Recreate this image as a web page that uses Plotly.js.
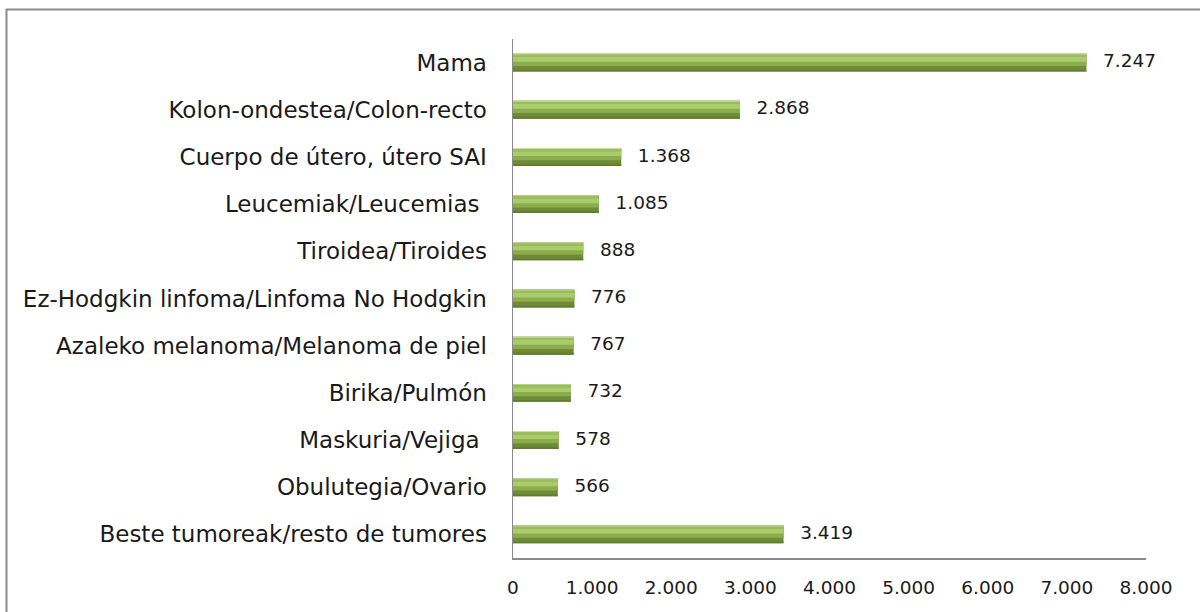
<!DOCTYPE html>
<html>
<head>
<meta charset="utf-8">
<script src="https://cdn.plot.ly/plotly-3.0.1.min.js"></script>
<style>
html,body{margin:0;padding:0;background:#fff;}
#chart{width:1200px;height:612px;}
</style>
</head>
<body>
<div id="chart"></div>
<script>
// Categories listed top to bottom as in the chart
const categories = [
  "Mama",
  "Kolon-ondestea/Colon-recto",
  "Cuerpo de útero, útero SAI",
  "Leucemiak/Leucemias\u00a0",
  "Tiroidea/Tiroides",
  "Ez-Hodgkin linfoma/Linfoma No Hodgkin",
  "Azaleko melanoma/Melanoma de piel",
  "Birika/Pulmón",
  "Maskuria/Vejiga\u00a0",
  "Obulutegia/Ovario",
  "Beste tumoreak/resto de tumores"
];
const cases = [7247, 2868, 1368, 1085, 888, 776, 767, 732, 578, 566, 3419];
const tickValues = [0, 1000, 2000, 3000, 4000, 5000, 6000, 7000, 8000];

function fmt(n){
  return String(n).replace(/\B(?=(\d{3})+(?!\d))/g, ".");
}
const tickText = tickValues.map(fmt);

// bottom-to-top order for the category axis
const yCats = categories.slice().reverse();
const xVals = cases.slice().reverse();

const FONT = "DejaVu Sans, sans-serif";

function band(color, offset, width){
  return {
    type: "bar", orientation: "h",
    y: yCats, x: xVals,
    offset: offset, width: width,
    marker: {color: color, line: {width: 0}},
    hoverinfo: "skip", showlegend: false
  };
}

const traces = [
  band("#6f8b38", -0.19, 0.38),
  band("#627c30", -0.19, 0.04),
  band("#8dad4d", -0.07, 0.26),
  band("#a9cd6c", 0.02, 0.10),
  band("#9bbd5a", 0.12, 0.05),
  band("#c6dea0", 0.17, 0.02),
  {
    type: "scatter", mode: "text",
    y: yCats, x: xVals,
    text: xVals.map(v => "\u2002\u2009\u2009" + fmt(v)),
    textposition: "middle right",
    textfont: {family: FONT, size: 18.5, color: "#1a1a1a"},
    hoverinfo: "skip", showlegend: false, cliponaxis: false
  }
];

const L = 513, R = 54, T = 39, B = 54;
const pw = 1200 - L - R, ph = 612 - T - B;

const layout = {
  width: 1200, height: 612,
  margin: {l: L, r: R, t: T, b: B, pad: 0},
  paper_bgcolor: "#ffffff", plot_bgcolor: "#ffffff",
  barmode: "overlay",
  showlegend: false,
  font: {family: FONT, size: 18, color: "#1a1a1a"},
  xaxis: {
    range: [0, 8000], tickvals: tickValues, ticktext: tickText,
    showgrid: false, zeroline: false,
    showline: true, linecolor: "#8a8a8a", linewidth: 1.5,
    ticks: "", ticklabelstandoff: 12,
    tickfont: {family: FONT, size: 18.5, color: "#1a1a1a"},
    fixedrange: true
  },
  yaxis: {
    type: "category", categoryorder: "array", categoryarray: yCats,
    range: [-0.5, 10.5],
    showgrid: false, zeroline: false,
    showline: true, linecolor: "#8a8a8a", linewidth: 1.5,
    ticks: "", ticklabelstandoff: 20,
    tickfont: {family: FONT, size: 23, color: "#1a1a1a"},
    fixedrange: true
  },
  shapes: [{
    type: "rect", xref: "paper", yref: "paper",
    x0: (6.5 - L) / pw, x1: (1210 - L) / pw,
    y0: -(620 - (612 - B)) / ph, y1: 1 + (T - 9.5) / ph,
    line: {color: "#8c8c8c", width: 2}, fillcolor: "rgba(0,0,0,0)",
    layer: "below"
  }]
};

Plotly.newPlot("chart", traces, layout, {displayModeBar: false, staticPlot: true});
</script>
</body>
</html>
